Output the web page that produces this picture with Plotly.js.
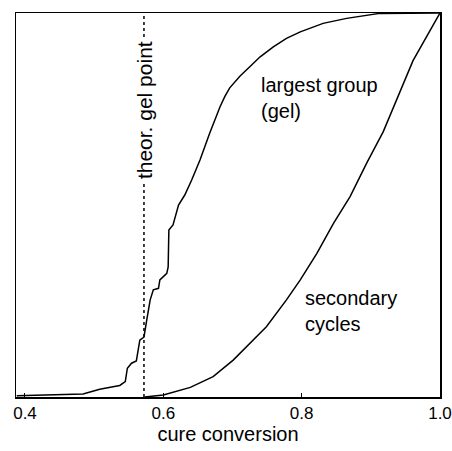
<!DOCTYPE html>
<html>
<head>
<meta charset="utf-8">
<script src="https://cdn.plot.ly/plotly-3.0.1.min.js"></script>
<style>
  html, body { margin: 0; padding: 0; background: #fff; }
  #chart { width: 452px; height: 451px; }
</style>
</head>
<body>
<div id="chart"></div>
<script>
// Largest group (gel) curve
const gelX = [0.388, 0.45, 0.484, 0.508, 0.537, 0.545, 0.548, 0.554, 0.561, 0.566, 0.572, 0.576, 0.581, 0.5855, 0.593, 0.595, 0.605, 0.607, 0.608, 0.614, 0.622, 0.631, 0.641, 0.653, 0.667, 0.682, 0.689, 0.696, 0.704, 0.711, 0.725, 0.740, 0.759, 0.778, 0.798, 0.831, 0.865, 0.913, 1.0];
const gelY = [0.003, 0.006, 0.008, 0.02, 0.03, 0.04, 0.075, 0.088, 0.094, 0.148, 0.156, 0.2, 0.253, 0.279, 0.283, 0.305, 0.322, 0.339, 0.435, 0.448, 0.5, 0.526, 0.565, 0.617, 0.687, 0.756, 0.783, 0.805, 0.823, 0.836, 0.86, 0.886, 0.912, 0.934, 0.951, 0.973, 0.986, 0.999, 1.0];

// Secondary cycles curve
const secX = [0.573, 0.600, 0.639, 0.672, 0.701, 0.718, 0.730, 0.749, 0.778, 0.798, 0.822, 0.846, 0.870, 0.894, 0.918, 0.937, 0.961, 1.0];
const secY = [0.0, 0.005, 0.025, 0.053, 0.096, 0.127, 0.148, 0.183, 0.253, 0.305, 0.374, 0.452, 0.522, 0.609, 0.691, 0.773, 0.876, 1.0];

// Theoretical gel point
const gelPoint = 0.572;

// Axis ticks
const tickVals = [0.4, 0.6, 0.8, 1.0];
const tickText = ["0.4", "0.6", "0.8", "1.0"];

const FONT = "Liberation Sans, Arial, Helvetica, sans-serif";

const traces = [
  { x: gelX, y: gelY, mode: "lines", line: { color: "#000", width: 1.5 }, showlegend: false, hoverinfo: "skip" },
  { x: secX, y: secY, mode: "lines", line: { color: "#000", width: 1.5 }, showlegend: false, hoverinfo: "skip" }
];

const layout = {
  width: 452, height: 451,
  margin: { l: 16, r: 12, t: 13, b: 54 },
  paper_bgcolor: "#fff", plot_bgcolor: "#fff",
  font: { family: FONT, color: "#000", size: 16 },
  xaxis: {
    range: [0.387, 1.0],
    tickvals: tickVals, ticktext: tickText,
    ticks: "inside", ticklen: 4, tickwidth: 1, tickcolor: "#000",
    ticklabeloverflow: "allow",
    showline: true, mirror: true, linecolor: "#000", linewidth: 1.5,
    showgrid: false, zeroline: false,
    tickfont: { family: FONT, size: 17, color: "#000" },
    title: { text: "cure conversion", font: { family: FONT, size: 20, color: "#000" }, standoff: 5 }
  },
  yaxis: {
    range: [0, 1],
    showticklabels: false, ticks: "",
    showline: true, mirror: true, linecolor: "#000", linewidth: 1.5,
    showgrid: false, zeroline: false
  },
  shapes: [
    { type: "line", xref: "x", yref: "y", x0: gelPoint, x1: gelPoint, y0: 0, y1: 1,
      line: { color: "#000", width: 1.5, dash: "dot" } }
  ],
  annotations: [
    { x: gelPoint, y: 0.747, xref: "x", yref: "y", text: "theor. gel point", textangle: -90,
      showarrow: false, bgcolor: "#fff", borderpad: 3,
      font: { family: FONT, size: 21, color: "#000" } },
    { x: 0.738, y: 0.779, xref: "x", yref: "y", text: "largest group<br>(gel)",
      xanchor: "left", yanchor: "middle", align: "left", showarrow: false,
      font: { family: FONT, size: 20, color: "#000" } },
    { x: 0.802, y: 0.225, xref: "x", yref: "y", text: "secondary<br>cycles",
      xanchor: "left", yanchor: "middle", align: "left", showarrow: false,
      font: { family: FONT, size: 20, color: "#000" } }
  ]
};

Plotly.newPlot("chart", traces, layout, { staticPlot: true, displayModeBar: false });
</script>
</body>
</html>
